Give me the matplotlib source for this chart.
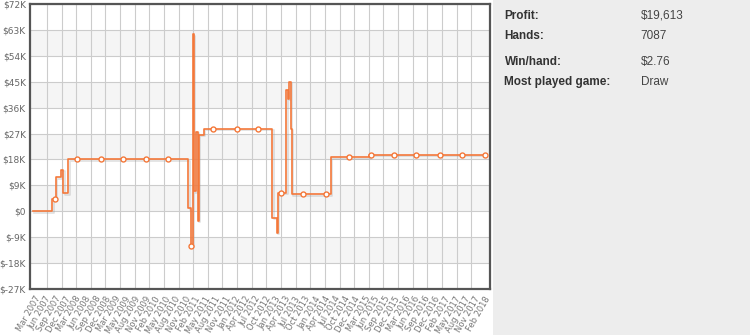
import matplotlib
matplotlib.use("Agg")
import matplotlib.pyplot as plt
import matplotlib.dates as mdates
import matplotlib.patheffects as pe
import numpy as np

# Profit history (step line), values in $K
line_dates = ["2007-02-13", "2007-08-02", "2007-09-01", "2007-10-16", "2007-10-30",
              "2007-11-08", "2007-12-22", "2010-11-23", "2010-12-14", "2011-01-01",
              "2011-01-11", "2011-01-26", "2011-02-13", "2011-02-22", "2011-04-10",
              "2012-12-08", "2013-01-16", "2013-01-25", "2013-04-10", "2013-04-22",
              "2013-05-06", "2013-05-21", "2013-05-28", "2014-05-08", "2015-04-17",
              "2018-02-13"]
line_values = [0.0, 4.2, 11.75, 14.4, 14.4,
               6.3, 18.1, 1.0, -12.1, 61.5,
               7.0, 27.7, -3.4, 26.5, 28.6,
               -2.2, -7.4, 6.5, 42.0, 39.0,
               44.9, 28.6, 5.9, 18.7, 19.6,
               19.6]

# sampled points shown with markers
marker_dates = ["2007-08-23", "2008-03-11", "2008-10-04", "2009-04-21", "2009-11-10",
                "2010-05-22", "2010-12-16", "2011-07-01", "2012-01-26", "2012-08-06",
                "2013-02-20", "2013-09-09", "2014-03-28", "2014-10-22", "2015-05-02",
                "2015-11-21", "2016-06-09", "2016-12-31", "2017-07-19", "2018-02-12"]
marker_values = [4.2, 18.1, 18.1, 18.1, 18.1,
                 18.1, -12.1, 28.6, 28.6, 28.6,
                 6.5, 5.9, 5.9, 18.7, 19.6,
                 19.6, 19.6, 19.6, 19.6, 19.6]

x_labels = ["Mar 2007", "Jun 2007", "Sep 2007", "Dec 2007", "Mar 2008", "Jun 2008",
            "Sep 2008", "Dec 2008", "Mar 2009", "May 2009", "Aug 2009", "Nov 2009",
            "Feb 2010", "May 2010", "Aug 2010", "Nov 2010", "Feb 2011", "May 2011",
            "Aug 2011", "Nov 2011", "Jan 2012", "Apr 2012", "Jul 2012", "Oct 2012",
            "Jan 2013", "Apr 2013", "Jul 2013", "Oct 2013", "Jan 2014", "Apr 2014",
            "Jul 2014", "Oct 2014", "Dec 2014", "Mar 2015", "Jun 2015", "Sep 2015",
            "Dec 2015", "Mar 2016", "Jun 2016", "Sep 2016", "Dec 2016", "Feb 2017",
            "May 2017", "Aug 2017", "Nov 2017", "Feb 2018"]
y_ticks = [-27, -18, -9, 0, 9, 18, 27, 36, 45, 54, 63, 72]

stats_labels = ["Profit:", "Hands:", "Win/hand:", "Most played game:"]
stats_values = ["$19,613", "7087", "$2.76", "Draw"]

orange = "#f4783a"

fig = plt.figure(figsize=(7.5, 3.35), dpi=100)
fig.patch.set_facecolor("white")
# grey side panel
fig.patches.append(plt.Rectangle((493 / 750, 0), 1, 1, transform=fig.transFigure,
                                 facecolor="#ededed", edgecolor="none", zorder=0))

ax = fig.add_axes([30 / 750, 1 - 289 / 335, 460 / 750, 285 / 335])
ax.set_facecolor("white")

ld = mdates.date2num(np.array(line_dates, dtype="datetime64[D]"))
md = mdates.date2num(np.array(marker_dates, dtype="datetime64[D]"))

# alternating bands
for lo in y_ticks[1::2]:
    ax.axhspan(lo, lo + 9, color="#f5f5f5", zorder=0, lw=0)

ax.plot(ld, line_values, drawstyle="steps-post", color=orange, lw=1.2, zorder=3,
        path_effects=[pe.SimpleLineShadow(offset=(1, -1), shadow_color="#999999", alpha=0.3),
                      pe.Normal()])
ax.plot(md, marker_values, ls="none", marker="o", ms=3.6, mfc="white", mec=orange,
        mew=1.0, zorder=4)

x0 = mdates.date2num(np.datetime64("2007-01-17"))
x1 = mdates.date2num(np.datetime64("2018-03-24"))
ax.set_xlim(x0, x1)
ax.set_ylim(-27, 72)

ticks = np.linspace(mdates.date2num(np.datetime64("2007-03-01")),
                    mdates.date2num(np.datetime64("2018-02-01")), len(x_labels))
ax.set_xticks(ticks)
ax.set_xticklabels(x_labels, rotation=60, ha="right", va="top", rotation_mode="anchor",
                   fontsize=6, color="#777777")
grid_start = mdates.date2num(np.datetime64("2007-06-16"))
grid_end = mdates.date2num(np.datetime64("2017-11-12"))
ax.set_xticks(np.arange(grid_start, grid_end, 129.9), minor=True)

ax.set_yticks(y_ticks)
ax.set_yticklabels([("$%dK" % v) if v != 0 else "$0" for v in y_ticks],
                   fontsize=6.5, color="#666666")
ax.tick_params(axis="both", which="both", length=0, pad=3)
ax.tick_params(axis="x", pad=4)

ax.grid(True, axis="y", which="major", color="#cccccc", lw=0.8, zorder=1)
ax.grid(True, axis="x", which="minor", color="#cccccc", lw=0.8, zorder=1)
ax.set_axisbelow(True)
for s in ax.spines.values():
    s.set_color("#555555")
    s.set_linewidth(1.6)

rows_y = [15.7, 35.7, 62.3, 82.3]
for lab, val, yp in zip(stats_labels, stats_values, rows_y):
    fig.text(504.5 / 750, 1 - yp / 335, lab, fontsize=8.5, fontweight="bold",
             family="Liberation Sans", color="#333333", va="center", ha="left")
    fig.text(640.5 / 750, 1 - yp / 335, val, fontsize=8.5,
             family="Liberation Sans", color="#444444", va="center", ha="left")

fig.savefig("out.png", dpi=100, facecolor=fig.get_facecolor())
